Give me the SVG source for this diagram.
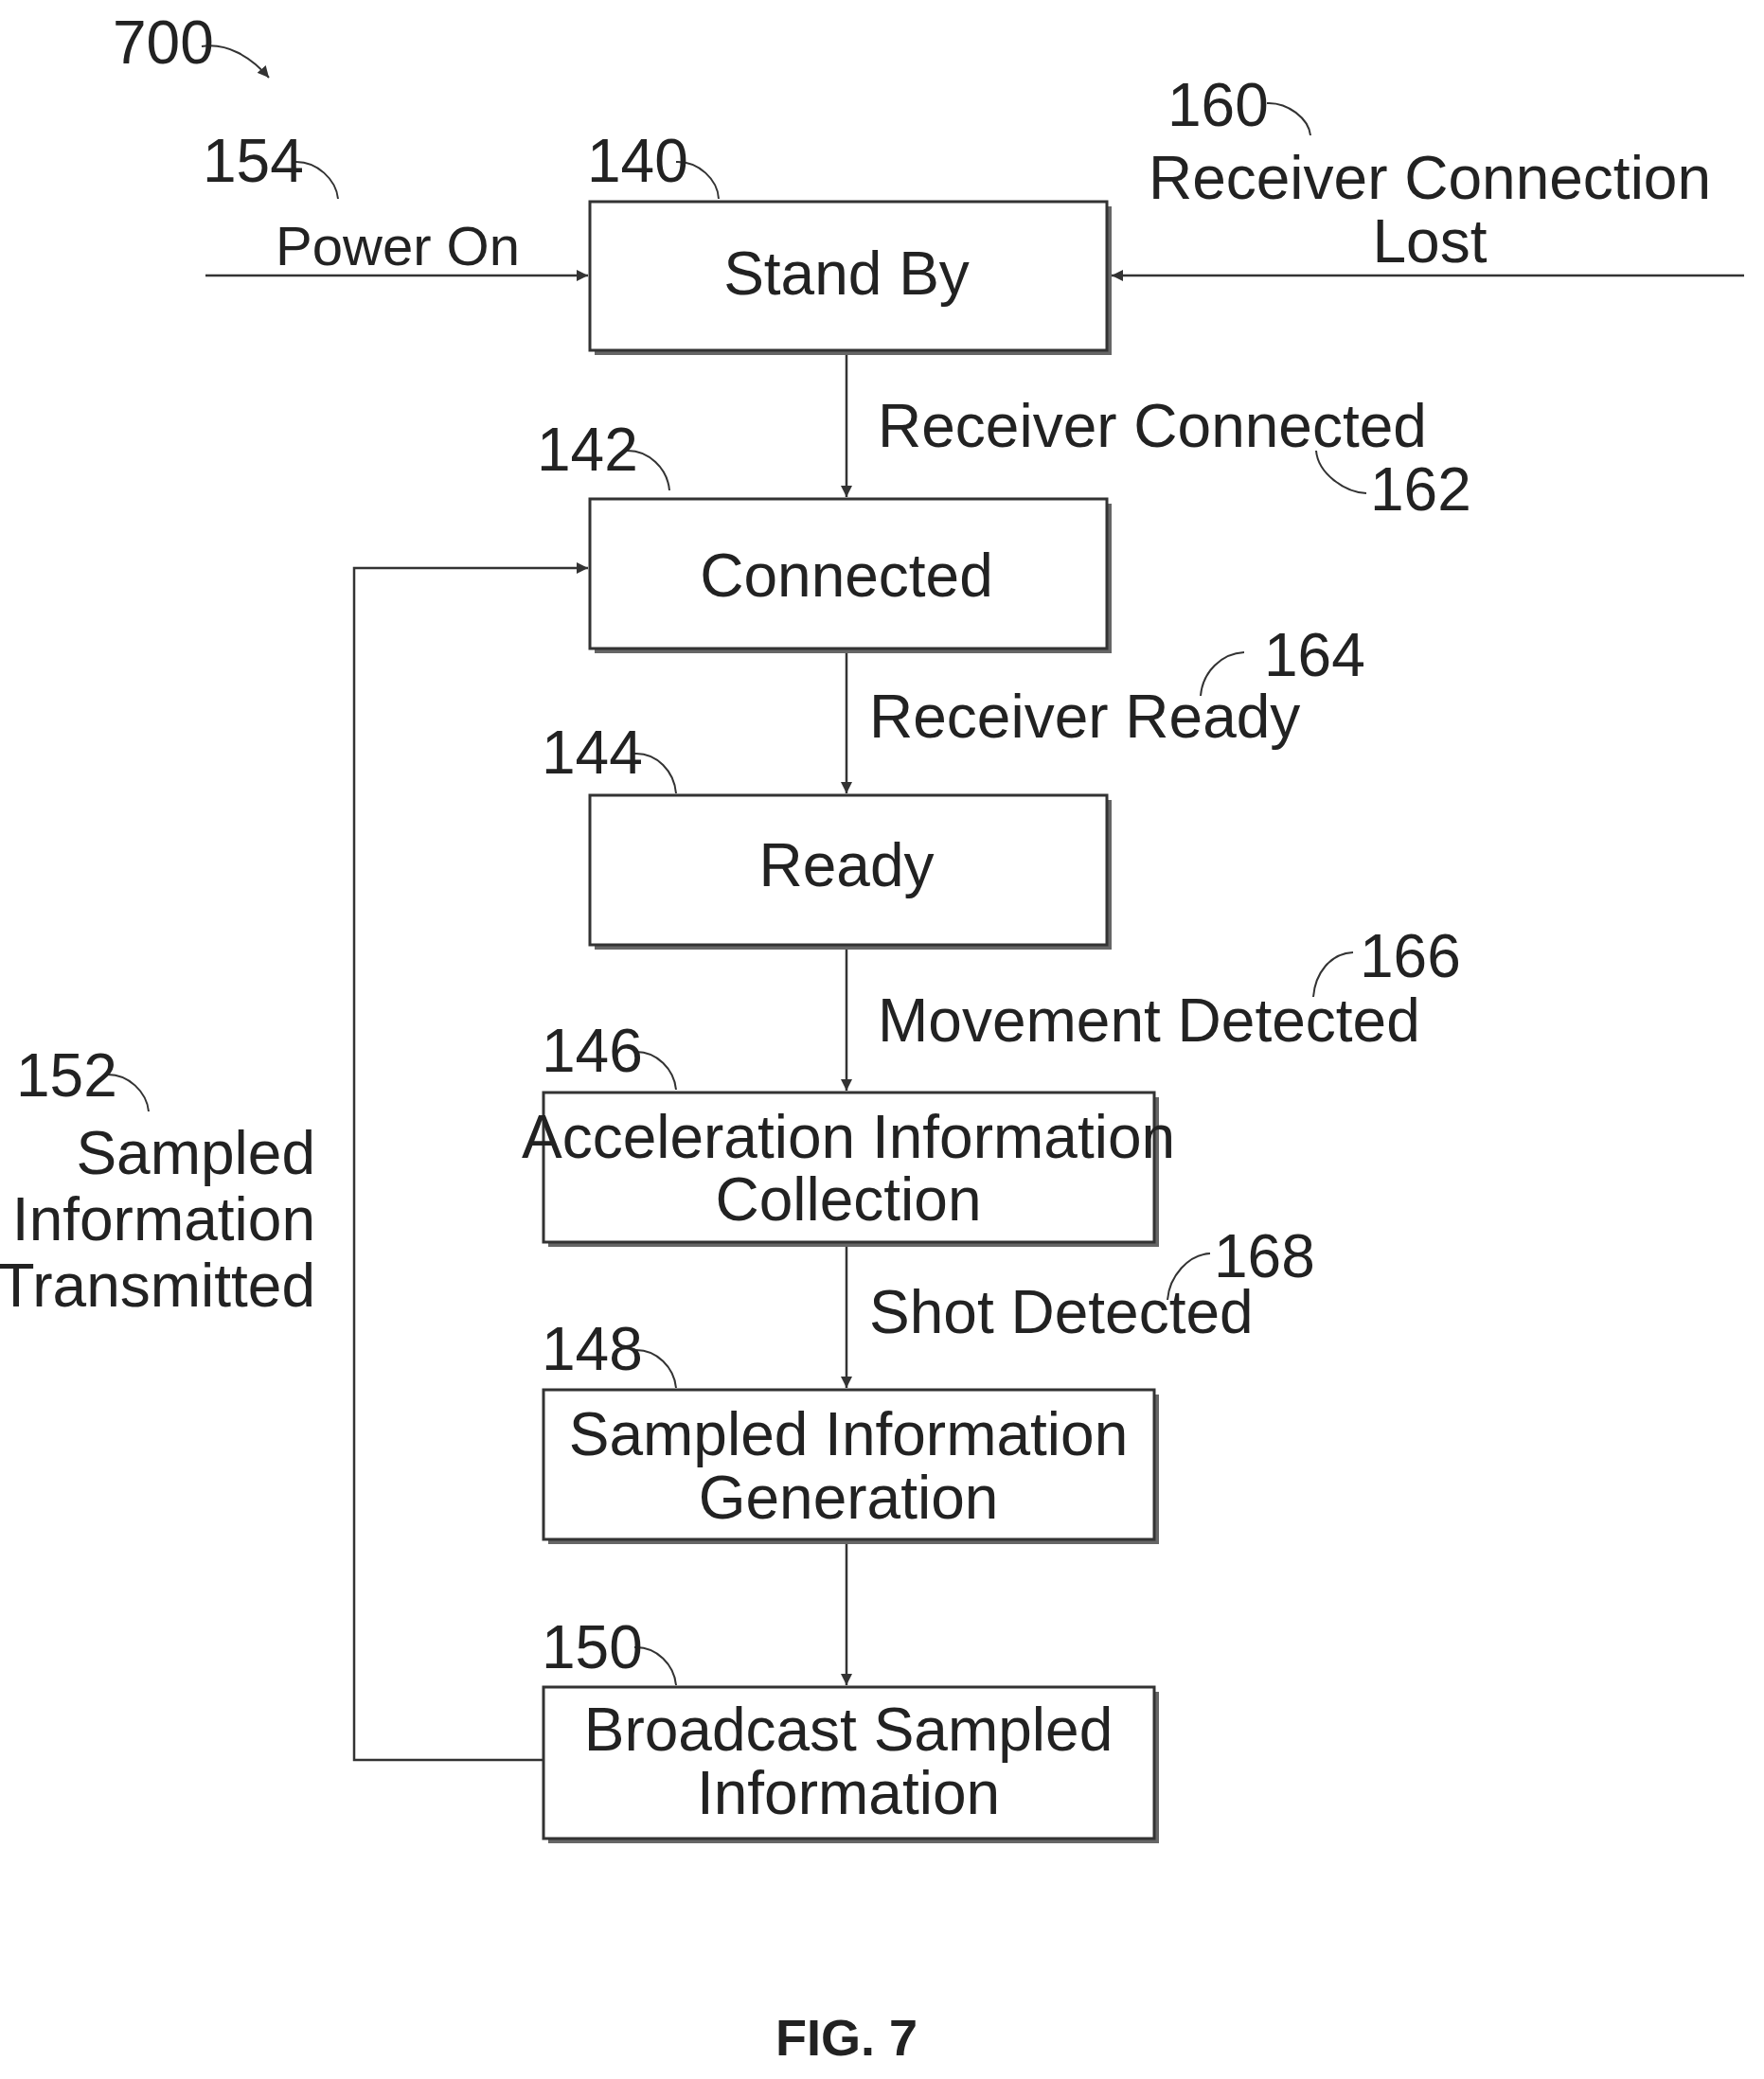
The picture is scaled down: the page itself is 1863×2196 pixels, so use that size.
<svg xmlns="http://www.w3.org/2000/svg" width="1863" height="2196" viewBox="0 0 1863 2196">
<defs>
<marker id="ah" viewBox="0 0 12 12" refX="12" refY="6" markerWidth="12" markerHeight="12" markerUnits="userSpaceOnUse" orient="auto"><path d="M0,0 L12,6 L0,12 Z" fill="#333"/></marker>
<filter id="none"/>
</defs>
<style>
text{font-family:"Liberation Sans Narrow","Liberation Sans",Arial,sans-serif;font-size:64px;fill:#222}
.c{text-anchor:middle}
.r{text-anchor:end}
.box{fill:#fff;stroke:#333;stroke-width:3}
.sh{fill:#666}
.ln{fill:none;stroke:#333;stroke-width:2.5}
.ld{fill:none;stroke:#333;stroke-width:2}
</style>
<rect width="1863" height="2196" fill="#fff"/>
<g id="connectors">
<path class="ln" d="M217,291 H621" marker-end="url(#ah)"/>
<path class="ln" d="M1842,291 H1174" marker-end="url(#ah)"/>
<path class="ln" d="M894,375 V525" marker-end="url(#ah)"/>
<path class="ln" d="M894,690 V838" marker-end="url(#ah)"/>
<path class="ln" d="M894,1003 V1152" marker-end="url(#ah)"/>
<path class="ln" d="M894,1317 V1466" marker-end="url(#ah)"/>
<path class="ln" d="M894,1630 V1780" marker-end="url(#ah)"/>
<path class="ln" d="M574,1859 H374 V600 H621" marker-end="url(#ah)"/>
<path class="ld" d="M213,49 C240,45 265,60 284,82" marker-end="url(#ah)"/>
</g>
<g id="leaders">
<path class="ld" d="M311,171 C335,170 355,190 357,210"/>
<path class="ld" d="M714,171 C738,170 758,190 759,210"/>
<path class="ld" d="M1338,109 C1360,108 1382,125 1384,143"/>
<path class="ld" d="M1390,476 C1392,500 1420,520 1443,521"/>
<path class="ld" d="M661,476 C685,475 705,495 707,518"/>
<path class="ld" d="M1314,689 C1290,690 1270,710 1268,735"/>
<path class="ld" d="M670,796 C694,795 712,815 714,838"/>
<path class="ld" d="M1429,1006 C1405,1007 1389,1028 1387,1053"/>
<path class="ld" d="M670,1111 C694,1110 712,1130 714,1151"/>
<path class="ld" d="M1278,1324 C1255,1325 1235,1348 1233,1373"/>
<path class="ld" d="M670,1426 C694,1425 712,1445 714,1466"/>
<path class="ld" d="M670,1740 C694,1739 712,1759 714,1780"/>
<path class="ld" d="M112,1135 C136,1134 155,1154 157,1174"/>
</g>
<g id="n140"><rect class="sh" x="628" y="218" width="546" height="157"/><rect class="box" x="623" y="213" width="546" height="157"/><text class="c" x="894" y="311">Stand By</text><text x="620" y="192">140</text></g>
<g id="n142"><rect class="sh" x="628" y="532" width="546" height="158"/><rect class="box" x="623" y="527" width="546" height="158"/><text class="c" x="894" y="630">Connected</text><text x="567" y="497">142</text></g>
<g id="n144"><rect class="sh" x="628" y="845" width="546" height="158"/><rect class="box" x="623" y="840" width="546" height="158"/><text class="c" x="894" y="936">Ready</text><text x="572" y="817">144</text></g>
<g id="n146"><rect class="sh" x="579" y="1159" width="645" height="158"/><rect class="box" x="574" y="1154" width="645" height="158"/><text class="c" x="896" y="1223">Acceleration Information</text><text class="c" x="896" y="1289">Collection</text><text x="572" y="1132">146</text></g>
<g id="n148"><rect class="sh" x="579" y="1473" width="645" height="158"/><rect class="box" x="574" y="1468" width="645" height="158"/><text class="c" x="896" y="1537">Sampled Information</text><text class="c" x="896" y="1604">Generation</text><text x="572" y="1447">148</text></g>
<g id="n150"><rect class="sh" x="579" y="1787" width="645" height="160"/><rect class="box" x="574" y="1782" width="645" height="160"/><text class="c" x="896" y="1849">Broadcast Sampled</text><text class="c" x="896" y="1916">Information</text><text x="572" y="1762">150</text></g>
<g id="labels">
<text x="119" y="67">700</text>
<text x="214" y="192">154</text>
<text class="c" x="420" y="280" style="font-size:58px">Power On</text>
<text x="1233" y="133">160</text>
<text class="c" x="1510" y="210">Receiver Connection</text>
<text class="c" x="1510" y="277">Lost</text>
<text x="927" y="472">Receiver Connected</text>
<text x="1447" y="539">162</text>
<text x="918" y="779">Receiver Ready</text>
<text x="1335" y="714">164</text>
<text x="927" y="1100">Movement Detected</text>
<text x="1436" y="1032">166</text>
<text x="918" y="1408">Shot Detected</text>
<text x="1282" y="1349">168</text>
<text x="17" y="1158">152</text>
<text class="r" x="333" y="1240">Sampled</text>
<text class="r" x="333" y="1310">Information</text>
<text class="r" x="333" y="1380">Transmitted</text>
<text class="c" x="894" y="2171" style="font-family:'Liberation Sans',Arial,sans-serif;font-weight:bold;font-size:54px">FIG. 7</text>
</g>
</svg>
